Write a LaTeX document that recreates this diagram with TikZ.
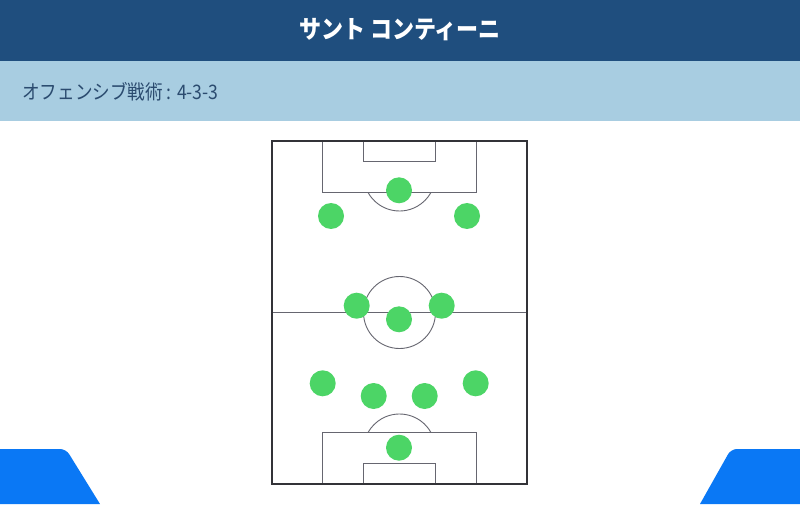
\documentclass[tikz,border=0pt]{standalone}
\usepackage{fontspec}
\newfontfamily\jpfont{Noto Sans CJK JP}
\newfontfamily\jpcond[FakeStretch=0.88]{Noto Sans CJK JP}

\definecolor{headblue}{HTML}{1F4E7E}
\definecolor{barblue}{HTML}{A8CDE1}
\definecolor{subtext}{HTML}{2B4B6F}
\definecolor{cornerblue}{HTML}{0A78F5}
\definecolor{playergreen}{HTML}{4CD566}
\definecolor{pitchline}{HTML}{333338}
\definecolor{markline}{HTML}{666670}

\begin{document}
\begin{tikzpicture}[x=1pt,y=1pt,
    player/.style={circle,fill=playergreen,draw=none,minimum size=26pt,inner sep=0pt},
    pitchmark/.style={draw=markline,line width=0.9pt},
    outline/.style={draw=pitchline,line width=1.4pt}]
      \useasboundingbox (0,0) rectangle (800,504);
      \fill [white] (0,0) rectangle (800,504);
      \fill [headblue] (0,443) rectangle (800,504);
      \fill [barblue] (0,383) rectangle (800,443);
      \node [font=\jpcond\bfseries\fontsize{25}{28}\selectfont, text=white] (title) at (400,474) {サント コンティーニ};
      \node [font=\jpcond\fontsize{20}{23}\selectfont, text=subtext, anchor=west, inner sep=0pt] (tactic) at (22,412) {オフェンシブ戦術 : 4-3-3};
      \fill [cornerblue] (0,0) -- (0,55) [rounded corners=6pt] -- (66,55) [sharp corners] -- (100,0) -- cycle;
      \fill [cornerblue] (800,0) -- (800,55) [rounded corners=6pt] -- (731,55) [sharp corners] -- (700,0) -- cycle;
      \coordinate (kickoff) at (399.5,191.5);
      \draw [pitchmark] (272,191.5) -- (527,191.5);
      \draw [pitchmark] (kickoff) circle (36);
      \draw [pitchmark] (322.5,363) -- (322.5,311.3) -- (476.5,311.3) -- (476.5,363);
      \draw [pitchmark] (363.5,363) -- (363.5,342.3) -- (435.5,342.3) -- (435.5,363);
      \draw [pitchmark] (322.5,20) -- (322.5,71.7) -- (476.5,71.7) -- (476.5,20);
      \draw [pitchmark] (363.5,20) -- (363.5,40.7) -- (435.5,40.7) -- (435.5,20);
      \draw [pitchmark] (399.5,329) ++(-150.6:36) arc (-150.6:-29.4:36);
      \draw [pitchmark] (399.5,54) ++(29.4:36) arc (29.4:150.6:36);
      \draw [outline] (272,20) rectangle (527,363);
      \node [player] (st) at (399,313.7) {};
      \node [player] (lw) at (331,288) {};
      \node [player] (rw) at (467,288) {};
      \node [player] (lcm) at (356.7,198.3) {};
      \node [player] (rcm) at (441.7,198.3) {};
      \node [player] (dm) at (399,184.7) {};
      \node [player] (lb) at (322.7,120.7) {};
      \node [player] (lcb) at (373.7,108) {};
      \node [player] (rcb) at (424.7,108) {};
      \node [player] (rb) at (475.7,120.7) {};
      \node [player] (gk) at (399,56.3) {};
    \end{tikzpicture}
\end{document}
